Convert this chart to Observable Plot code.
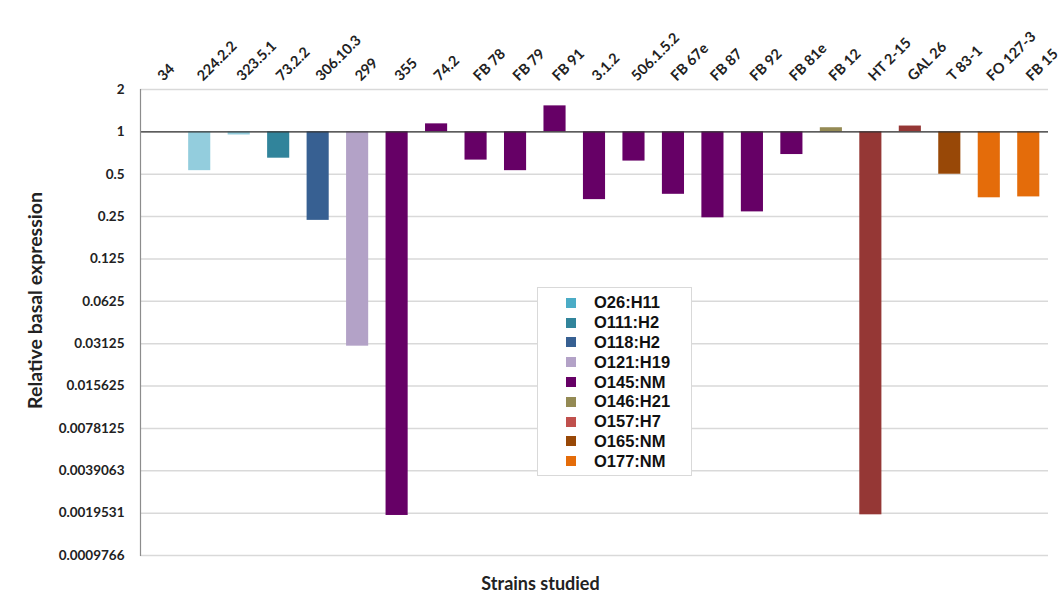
<!DOCTYPE html>
<html><head><meta charset="utf-8">
<script src="https://cdn.jsdelivr.net/npm/d3@7"></script>
<script src="https://cdn.jsdelivr.net/npm/@observablehq/plot@0.6"></script>
<style>
body{margin:0;background:#fff;font-family:Lato,sans-serif;}
#wrap{position:relative;width:1060px;height:598px;}
#legend{position:absolute;left:537px;top:287px;width:155px;height:189px;border:1px solid #d9d9d9;background:#fff;box-sizing:border-box;padding-top:5px;font-family:"Liberation Sans",Arial,sans-serif;font-weight:bold;font-size:16.5px;color:#111;}
.item{display:flex;align-items:center;height:19.8px;padding-left:28px}
.sw{width:10px;height:10px;margin-right:18px;flex:none}
</style></head><body><div id="wrap"></div>
<script>
const strains = ["34","224.2.2","323.5.1","73.2.2","306.10.3","299","355","74.2","FB 78","FB 79","FB 91","3.1.2","506.1.5.2","FB 67e","FB 87","FB 92","FB 81e","FB 12","HT 2-15","GAL 26","T 83-1","FO 127-3","FB 15"];
const strainSerotype = ["O26:H11","O26:H11","O26:H11","O111:H2","O118:H2","O121:H19","O145:NM","O145:NM","O145:NM","O145:NM","O145:NM","O145:NM","O145:NM","O145:NM","O145:NM","O145:NM","O145:NM","O146:H21","O157:H7","O157:H7","O165:NM","O177:NM","O177:NM"];
const values = [1,0.53,0.95,0.65,0.235,0.030,0.00188,1.14,0.63,0.53,1.53,0.33,0.62,0.36,0.245,0.27,0.69,1.07,0.0019,1.1,0.50,0.34,0.345];
const serotypes = ["O26:H11","O111:H2","O118:H2","O121:H19","O145:NM","O146:H21","O157:H7","O165:NM","O177:NM"];
const barColors = ["#93cddd","#31849b","#376092","#b3a2c7","#660066","#948a54","#953735","#984807","#e46c0a"];
const legendColors = ["#4bacc6","#31849b","#376092","#b3a2c7","#660066","#948a54","#c0504d","#984807","#e46c0a"];
const yTicks = [2,1,0.5,0.25,0.125,0.0625,0.03125,0.015625,0.0078125,0.00390625,0.001953125,0.0009765625];

const data = strains.map((s,i)=>({strain:s, sero:strainSerotype[i], value:values[i]}));

const chart = Plot.plot({
  width:1060, height:598,
  marginLeft:140, marginRight:12, marginTop:89, marginBottom:43,
  style:{fontFamily:"Lato, sans-serif", fontWeight:"bold", fontSize:"13px", color:"#222", background:"#fff", overflow:"visible"},
  x:{domain:strains, paddingInner:0.44, paddingOuter:0.22, round:false, axis:null},
  y:{type:"log", base:2, domain:[yTicks[yTicks.length-1], yTicks[0]], axis:null},
  color:{domain:serotypes, range:barColors},
  marks:[
    Plot.ruleY(yTicks, {stroke:"#d9d9d9", strokeWidth:1.5}),
    Plot.barY(data, {x:"strain", y1:d=>1, y2:"value", fill:"sero"}),
    Plot.ruleY([1], {stroke:"#333", strokeWidth:1.3}),
    Plot.frame({anchor:"left", stroke:"#8c8c8c", strokeWidth:1.2}),
    Plot.axisY({ticks:yTicks, tickFormat:d=>String(+d.toFixed(7)), tickSize:0, tickPadding:16, fontSize:13.5, label:null}),
    Plot.axisX({anchor:"top", tickSize:0, tickPadding:11, tickRotate:-45, textAnchor:"start", fontSize:14.5, label:null}),
    Plot.text(["Relative basal expression"], {frameAnchor:"left", textAnchor:"middle", rotate:-90, dx:-105, dy:-22, fontSize:19.5, fontWeight:"bold"}),
    Plot.text(["Strains studied"], {frameAnchor:"bottom", dx:-54, dy:34, fontSize:18, fontWeight:"bold"})
  ]
});
const wrap = document.getElementById("wrap");
wrap.appendChild(chart);

const legend = document.createElement("div");
legend.id = "legend";
serotypes.forEach((s,i)=>{
  const it = document.createElement("div"); it.className="item";
  const sw = document.createElement("div"); sw.className="sw"; sw.style.background = legendColors[i];
  const t = document.createElement("span"); t.textContent = s;
  it.appendChild(sw); it.appendChild(t); legend.appendChild(it);
});
wrap.appendChild(legend);
</script></body></html>
